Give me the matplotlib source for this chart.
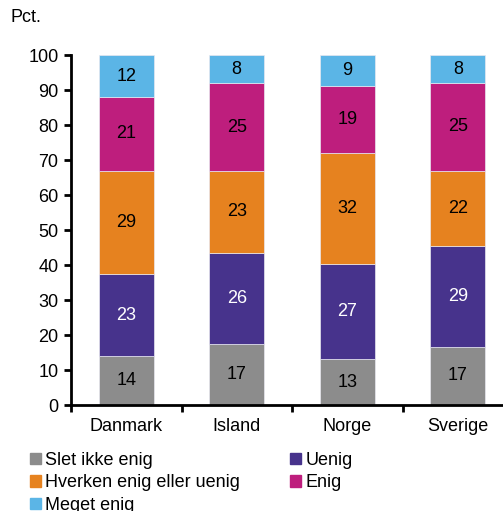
import numpy as np
import matplotlib.pyplot as plt
from matplotlib.patches import Patch

plt.rcParams['font.family'] = ['Liberation Sans', 'DejaVu Sans']

# 数据：四个国家，五个回答类别（段高为图中读取的估计值，标签为图中显示的整数）
countries = ["Danmark", "Island", "Norge", "Sverige"]
categories = ["Slet ikke enig", "Uenig", "Hverken enig eller uenig", "Enig", "Meget enig"]
heights = {
    "Slet ikke enig": [14.0, 17.4, 13.1, 16.6],
    "Uenig": [23.3, 26.1, 27.2, 28.7],
    "Hverken enig eller uenig": [29.7, 23.4, 31.7, 21.7],
    "Enig": [21.0, 25.0, 19.2, 24.9],
    "Meget enig": [12.0, 8.1, 8.8, 8.1],
}
labels = {
    "Slet ikke enig": [14, 17, 13, 17],
    "Uenig": [23, 26, 27, 29],
    "Hverken enig eller uenig": [29, 23, 32, 22],
    "Enig": [21, 25, 19, 25],
    "Meget enig": [12, 8, 9, 8],
}
colors = ["#8C8C8C", "#47338C", "#E6821F", "#BE1E7D", "#5BB5E6"]
text_colors = ["black", "white", "black", "black", "black"]
fs = 13

fig = plt.figure(figsize=(5.03, 5.11), dpi=100)
ax = fig.add_axes([71 / 503, 106 / 511, 442 / 503, 350 / 511])

x = np.arange(len(countries))
bottom = np.zeros(len(countries))
for cat, col, tc in zip(categories, colors, text_colors):
    h = np.array(heights[cat])
    ax.bar(x, h, 0.5, bottom=bottom, color=col, edgecolor="#E8E8F0", linewidth=0.5)
    for xi, b, hi, lab in zip(x, bottom, h, labels[cat]):
        ax.text(xi, b + hi / 2, str(lab), ha="center", va="center", fontsize=fs, color=tc)
    bottom += h

ax.set_xlim(-0.5, 3.5)
ax.set_ylim(0, 100)
ax.set_yticks(range(0, 101, 10))
ax.set_xticks(np.arange(-0.5, 3.5, 1))
ax.set_xticklabels([])
ax.set_xticks(x, minor=True)
ax.set_xticklabels(countries, minor=True)
ax.tick_params(axis="x", which="minor", length=0, pad=9, labelsize=fs)
ax.tick_params(axis="x", which="major", length=5, width=2, direction="out")
ax.tick_params(axis="y", length=5, width=2, labelsize=fs, pad=4)
for s in ["top", "right"]:
    ax.spines[s].set_visible(False)
ax.spines["left"].set_linewidth(2)
ax.spines["bottom"].set_linewidth(2)

fig.text(10 / 503, 1 - 18 / 511, "Pct.", fontsize=fs, ha="left", va="center")

# 图例：按列填充，所以重新排列顺序
order = [0, 2, 4, 1, 3]
handles = [Patch(color=colors[i]) for i in order]
fig.legend(handles, [categories[i] for i in order], ncol=2, loc="upper left",
           bbox_to_anchor=(30 / 503, 1 - 452 / 511), frameon=False, fontsize=fs,
           handlelength=0.6, handleheight=0.6, handletextpad=0.25,
           labelspacing=0.3, columnspacing=2.75, borderpad=0, borderaxespad=0)

fig.savefig("out.png", dpi=100)
